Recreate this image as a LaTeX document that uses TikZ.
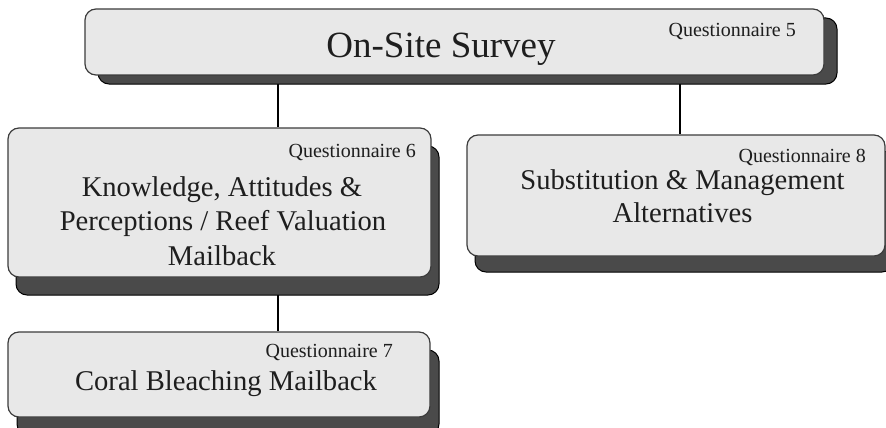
\documentclass[tikz,border=0pt]{standalone}
\usepackage{fontspec}
\setmainfont{Liberation Serif}
\usetikzlibrary{shadows,backgrounds}
\definecolor{boxfill}{RGB}{232,232,232}
\definecolor{shadowfill}{RGB}{74,74,74}
\definecolor{boxline}{RGB}{60,60,60}
\definecolor{txt}{RGB}{30,30,30}
\tikzset{
 surveybox/.style={rectangle, draw=boxline, line width=1.2pt, fill=boxfill, rounded corners=11pt, inner sep=0pt},
 shad/.style 2 args={general shadow={shadow xshift=#1, shadow yshift=#2, fill=shadowfill, draw=black, line width=1pt}},
 bigtext/.style={font=\fontsize{37}{44}\selectfont, inner sep=0pt, anchor=base, text=txt},
 midtext/.style={font=\fontsize{28.6}{34}\selectfont, inner sep=0pt, anchor=base, text=txt},
 qlabel/.style={font=\fontsize{20}{24}\selectfont, inner sep=0pt, anchor=base east, text=txt},
 link/.style={draw=black, line width=1.4pt}
}
\begin{document}
\begin{tikzpicture}[x=1pt,y=1pt]
\useasboundingbox (0,0) rectangle (886,-428);
% boxes
\node[surveybox, shad={13pt}{-9pt}, minimum width=739pt, minimum height=66pt] (A) at (454.5,-42) {};
\node[surveybox, shad={8pt}{-18pt}, minimum width=423pt, minimum height=149pt] (B) at (219.5,-202.5) {};
\node[surveybox, shad={8pt}{-16pt}, minimum width=418pt, minimum height=121pt] (C) at (676,-195.5) {};
\node[surveybox, shad={9pt}{-18pt}, minimum width=422pt, minimum height=85pt] (D) at (219,-374.5) {};
% connectors
\coordinate (xl) at (278,0);
\coordinate (xr) at (680,0);
\begin{scope}[on background layer]
\draw[link] (A.south -| xl) -- (B.north -| xl);
\draw[link] (A.south -| xr) -- (C.north -| xr);
\draw[link] (B.south -| xl) -- (D.north -| xl);
\end{scope}
% texts
\node[bigtext] (a1) at (441,-58) {On-Site Survey};
\node[qlabel] (aq) at (796,-37) {Questionnaire 5};
\node[qlabel] (bq) at (416,-157) {Questionnaire 6};
\node[midtext] (b1) at (222,-196) {Knowledge, Attitudes \&};
\node[midtext] (b2) at (223,-230) {Perceptions / Reef Valuation};
\node[midtext] (b3) at (222,-265) {Mailback};
\node[qlabel] (cq) at (866,-162) {Questionnaire 8};
\node[midtext] (c1) at (682.5,-189) {Substitution \& Management};
\node[midtext] (c2) at (682.5,-222) {Alternatives};
\node[qlabel] (dq) at (393,-357) {Questionnaire 7};
\node[midtext] (d1) at (226,-390) {Coral Bleaching Mailback};
\end{tikzpicture}
\end{document}
